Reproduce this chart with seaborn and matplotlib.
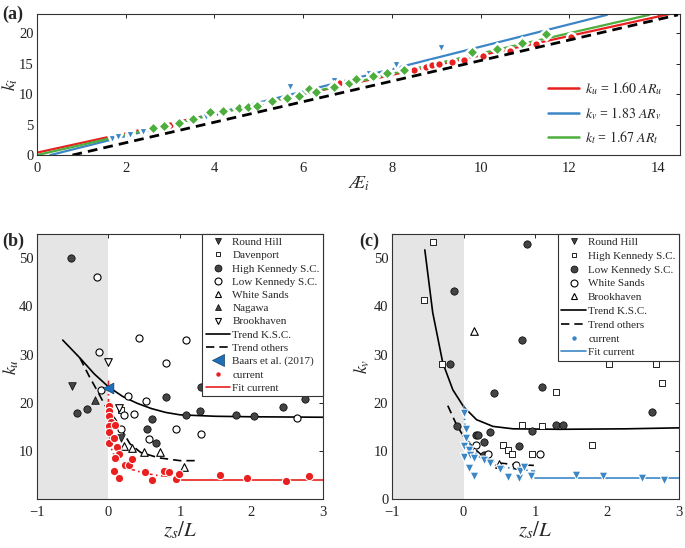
import matplotlib.pyplot as plt
import seaborn as sns
from matplotlib.lines import Line2D

# ---------------- panel (a) : k_i vs AR_i ----------------
a_u_x = [2.1, 3.0, 4.6, 5.3, 6.8, 8.5, 8.76, 8.9, 9.06, 9.35, 9.63, 10.05, 10.66, 11.26, 12.03]
a_u_y = [3.3, 4.9, 7.6, 8.6, 11.8, 14.0, 14.4, 14.7, 15.0, 15.2, 15.6, 16.2, 17.1, 18.2, 19.3]
a_v_x = [1.68, 1.83, 2.1, 2.4, 3.8, 4.05, 5.05, 5.7, 6.7, 7.48, 7.9, 8.1, 9.1]
a_v_y = [2.6, 3.0, 3.3, 3.8, 6.3, 6.8, 7.9, 11.1, 12.1, 13.3, 13.8, 14.7, 17.6]
a_t_x = [2.62, 2.87, 3.2, 3.52, 3.9, 4.2, 4.55, 4.75, 4.95, 5.3, 5.64, 5.9, 6.14, 6.3,
         6.7, 7.03, 7.2, 7.57, 7.9, 8.27, 9.8, 10.37, 10.94, 11.47]
a_t_y = [4.5, 4.8, 5.3, 6.0, 7.0, 7.2, 7.8, 7.9, 8.0, 8.8, 9.4, 9.75, 10.8, 10.4,
         11.1, 11.8, 12.5, 12.9, 13.5, 14.0, 16.9, 17.4, 18.4, 19.8]
fit_u_x, fit_u_y = [0.0, 14.3], [0.4, 23.2]
fit_v_x, fit_v_y = [0.3, 12.85], [0.0, 23.0]
fit_t_x, fit_t_y = [0.0, 13.8], [0.0, 23.0]
fit_all_x, fit_all_y = [0.8, 14.45], [0.0, 23.0]

# ---------------- panel (b) : k_u vs z_s/L ----------------
b_rh_x, b_rh_y = [-0.51, 0.17], [23.5, 12.6]
b_dav_x, b_dav_y = [0.17], [18.6]
b_hk_x = [-0.53, -0.44, -0.30, 0.81, 0.61, 0.54, 0.67, 1.28, 1.30, 1.08, 1.78, 2.03, 2.44, 2.75]
b_hk_y = [50.1, 17.8, 18.8, 21.3, 16.6, 14.5, 11.7, 18.2, 23.3, 17.4, 17.4, 17.2, 19.2, 20.8]
b_lk_x = [-0.16, -0.13, -0.10, 0.27, 0.42, 0.52, 0.80, 1.08, 0.36, 0.22, 0.18, 0.57, 0.94, 1.29, 2.63]
b_lk_y = [46.1, 30.5, 22.6, 21.5, 33.5, 20.3, 28.3, 33.1, 17.6, 17.4, 14.5, 12.4, 14.5, 13.5, 16.9]
b_ws_x, b_ws_y = [0.22, 0.33, 0.49, 0.72, 1.06], [11.0, 10.6, 9.7, 9.7, 6.6]
b_nag_x, b_nag_y = [-0.19], [20.5]
b_bh_x, b_bh_y = [0.0, 0.15], [28.4, 19.0]
b_ksc_x = [-0.64, -0.4, -0.2, 0.0, 0.2, 0.4, 0.6, 0.8, 1.0, 1.5, 2.0, 3.0]
b_ksc_y = [33.0, 29.3, 26.0, 23.3, 21.3, 19.9, 18.8, 18.0, 17.5, 17.2, 17.1, 17.0]
b_oth_x = [-0.40, -0.27, -0.15, -0.05, 0.1, 0.2, 0.3, 0.45, 0.7, 1.0, 1.22]
b_oth_y = [29.3, 25.5, 22.3, 19.5, 16.5, 14.0, 11.5, 9.7, 8.6, 8.0, 8.0]
b_baars_x, b_baars_y = [0.0], [23.1]
b_cur_x = [0.01, 0.01, 0.01, 0.03, 0.01, 0.01, 0.01, 0.09, 0.08, 0.12, 0.15, 0.09, 0.08, 0.15,
           0.23, 0.29, 0.33, 0.51, 0.61, 0.78, 0.84, 0.95, 0.99, 1.56, 1.94, 2.48, 2.80]
b_cur_y = [19.4, 18.3, 17.2, 16.1, 15.1, 14.0, 11.6, 15.4, 12.6, 10.9, 9.3, 8.5, 5.9, 4.3,
           7.1, 7.1, 8.3, 5.6, 4.0, 5.9, 5.6, 4.2, 5.3, 5.1, 4.5, 3.75, 4.9]
b_fitc_x = [0.0, 0.0, 0.005, 0.02, 0.05, 0.1, 0.2, 0.3, 0.5, 0.7, 1.0]
b_fitc_y = [24.6, 20.0, 15.0, 12.0, 10.0, 8.6, 7.2, 6.3, 5.4, 4.9, 4.6]
b_flat_x, b_flat_y = [1.0, 3.0], [3.9, 3.9]

# ---------------- panel (c) : k_v vs z_s/L ----------------
c_hk_x = [-0.42, -0.55, -0.30, 1.29, 2.03, 2.68, 2.76, 0.82, 1.09, 0.55, 0.62, 0.68, 0.96, 1.79]
c_hk_y = [53.3, 41.3, 28.1, 22.2, 28.1, 28.1, 24.1, 15.3, 15.1, 11.2, 10.2, 9.3, 9.3, 11.2]
c_lk_x = [0.88, -0.13, -0.19, 0.81, 0.42, 1.09, -0.09, 0.18, 0.20, 0.28, 0.37, 0.95, 0.77,
          1.29, 1.38, 2.63, 0.29]
c_lk_y = [52.9, 43.1, 28.1, 33.0, 22.0, 23.3, 15.1, 13.3, 13.3, 11.9, 14.0, 14.2, 11.0,
          15.3, 15.4, 18.1, 9.2]
c_ws_x, c_ws_y = [0.18, 0.34, 0.73, 1.07], [11.2, 9.3, 7.2, 9.3]
c_bh_x, c_bh_y = [0.14, 0.49], [34.9, 7.4]
c_ksc_x = [-0.54, -0.43, -0.29, -0.15, 0.0, 0.18, 0.41, 0.69, 1.34, 2.26, 3.0]
c_ksc_y = [51.7, 38.7, 28.3, 22.7, 19.2, 16.5, 15.1, 14.6, 14.5, 14.6, 14.8]
c_oth_x = [-0.22, -0.1, 0.0, 0.15, 0.3, 0.5, 0.7, 1.0]
c_oth_y = [19.4, 15.5, 13.0, 10.5, 8.5, 7.5, 7.2, 7.0]
c_cur_x = [0.01, 0.03, 0.04, 0.01, 0.08, 0.01, 0.09, 0.15, 0.08, 0.15, 0.29, 0.37, 0.51,
           0.62, 0.77, 0.78, 0.84, 0.94, 1.56, 1.94, 2.49, 2.80]
c_cur_y = [17.8, 14.5, 12.6, 11.1, 10.2, 8.8, 9.2, 8.6, 6.4, 4.8, 8.1, 7.6, 6.2,
           4.7, 4.3, 5.9, 6.6, 4.8, 5.0, 4.9, 4.4, 4.0]
c_fitc_x = [0.0, 0.02, 0.05, 0.1, 0.2, 0.4, 0.7, 1.0]
c_fitc_y = [19.5, 15.5, 13.0, 11.0, 9.0, 7.2, 6.3, 5.8]
c_flat_x, c_flat_y = [1.0, 3.0], [4.4, 4.4]

RED = "#e8201f"
BLUE = "#3c86c6"
GREEN = "#4cae3c"
DARK = "#444444"
SHADE = "#e5e5e5"

sns.set_theme(style="white")
plt.rcParams["font.family"] = ["Liberation Serif", "DejaVu Serif"]
plt.rcParams["mathtext.fontset"] = "stix"
plt.rcParams["axes.edgecolor"] = "#333333"
plt.rcParams["axes.linewidth"] = 0.8

fig = plt.figure(figsize=(6.85, 5.48), dpi=100)
ax_a = fig.add_axes([0.054, 0.717, 0.939, 0.257])
ax_b = fig.add_axes([0.054, 0.089, 0.4175, 0.484])
ax_c = fig.add_axes([0.572, 0.089, 0.419, 0.484])

for ax in (ax_a, ax_b, ax_c):
    ax.tick_params(direction="in", top=True, right=True, labelsize=10.5,
                   length=3, width=0.7, colors="#222222")
    ax.tick_params(axis="y", pad=2.5)
    ax.tick_params(axis="x", pad=5)

# ---- (a) ----
sns.lineplot(x=fit_u_x, y=fit_u_y, ax=ax_a, color=RED, lw=1.6, sort=False, estimator=None)
sns.lineplot(x=fit_v_x, y=fit_v_y, ax=ax_a, color=BLUE, lw=1.6, sort=False, estimator=None)
sns.lineplot(x=fit_t_x, y=fit_t_y, ax=ax_a, color=GREEN, lw=1.6, sort=False, estimator=None)
sns.scatterplot(x=a_u_x, y=a_u_y, ax=ax_a, color=RED, marker="o", s=40,
                edgecolor="white", linewidth=1.8, zorder=3)
sns.scatterplot(x=a_v_x, y=a_v_y, ax=ax_a, color=BLUE, marker="v", s=45,
                edgecolor="white", linewidth=1.8, zorder=3)
sns.scatterplot(x=a_t_x, y=a_t_y, ax=ax_a, color=GREEN, marker="D", s=40,
                edgecolor="white", linewidth=1.8, zorder=3)
sns.lineplot(x=fit_all_x, y=fit_all_y, ax=ax_a, color="black", lw=2.0,
             linestyle=(0, (3.5, 2.2)), sort=False, estimator=None, zorder=4)
ax_a.set_xlim(0, 14.5)
ax_a.set_ylim(0, 23.1)
ax_a.set_xticks(range(0, 15, 2))
ax_a.set_yticks([0, 5, 10, 15, 20])
ax_a.set_xlabel(r"$\mathit{Æ}_i$", fontsize=13, labelpad=0)
ax_a.set_ylabel(r"$k_i$", fontsize=13)
ax_a.yaxis.set_label_coords(-0.027, 0.5)
a_handles = [Line2D([], [], color=RED, lw=1.8), Line2D([], [], color=BLUE, lw=1.8),
             Line2D([], [], color=GREEN, lw=1.8)]
a_labels = [r"$k_u$ = $\mathit{1.60\ AR_u}$", r"$k_v$ = $\mathit{1.83\ AR_v}$",
            r"$k_t$ = $\mathit{1.67\ AR_t}$"]
ax_a.legend(a_handles, a_labels, loc="upper left", bbox_to_anchor=(0.775, 0.62),
            frameon=False, fontsize=10, handlelength=2.2, labelspacing=0.55,
            handletextpad=0.5)

# ---- (b) ----
ax_b.axvspan(-1, 0, color=SHADE, lw=0, zorder=0)
sns.lineplot(x=b_ksc_x, y=b_ksc_y, ax=ax_b, color="black", lw=1.2, sort=False, estimator=None)
sns.lineplot(x=b_oth_x, y=b_oth_y, ax=ax_b, color="black", lw=1.2, linestyle=(0, (5, 3)),
             sort=False, estimator=None)
sns.lineplot(x=b_fitc_x, y=b_fitc_y, ax=ax_b, color=RED, lw=1.2, linestyle=(0, (6, 2, 1, 2)),
             sort=False, estimator=None)
sns.lineplot(x=b_flat_x, y=b_flat_y, ax=ax_b, color=RED, lw=1.2, sort=False, estimator=None)
sns.scatterplot(x=b_rh_x, y=b_rh_y, ax=ax_b, color=DARK, marker="v", s=30,
                edgecolor="black", linewidth=0.5, zorder=3)
sns.scatterplot(x=b_dav_x, y=b_dav_y, ax=ax_b, color="white", marker="s", s=14,
                edgecolor="black", linewidth=0.6, zorder=3)
sns.scatterplot(x=b_hk_x, y=b_hk_y, ax=ax_b, color=DARK, marker="o", s=28,
                edgecolor="black", linewidth=0.5, zorder=3)
sns.scatterplot(x=b_lk_x, y=b_lk_y, ax=ax_b, color="white", marker="o", s=26,
                edgecolor="black", linewidth=0.8, zorder=3)
sns.scatterplot(x=b_ws_x, y=b_ws_y, ax=ax_b, color="white", marker="^", s=30,
                edgecolor="black", linewidth=0.8, zorder=3)
sns.scatterplot(x=b_nag_x, y=b_nag_y, ax=ax_b, color=DARK, marker="^", s=30,
                edgecolor="black", linewidth=0.5, zorder=3)
sns.scatterplot(x=b_bh_x, y=b_bh_y, ax=ax_b, color="white", marker="v", s=30,
                edgecolor="black", linewidth=0.8, zorder=3)
sns.scatterplot(x=b_cur_x, y=b_cur_y, ax=ax_b, color=RED, marker="o", s=36,
                edgecolor="white", linewidth=0.8, zorder=4)
sns.scatterplot(x=b_baars_x, y=b_baars_y, ax=ax_b, color="#1f6fb8", marker="<", s=60,
                edgecolor="#123f6a", linewidth=0.5, zorder=5)
ax_b.set_xlim(-1, 3)
ax_b.set_ylim(0, 55)
ax_b.set_xticks([-1, 0, 1, 2, 3])
ax_b.set_yticks([10, 20, 30, 40, 50])
ax_b.set_xlabel(r"$z_s/L$", fontsize=15, labelpad=0)
ax_b.set_ylabel(r"$k_u$", fontsize=13)
ax_b.yaxis.set_label_coords(-0.057, 0.5)

b_handles = [
    Line2D([], [], ls="", marker="v", ms=5, mfc=DARK, mec="black", mew=0.5),
    Line2D([], [], ls="", marker="s", ms=3.5, mfc="white", mec="black", mew=0.6),
    Line2D([], [], ls="", marker="o", ms=5, mfc=DARK, mec="black", mew=0.5),
    Line2D([], [], ls="", marker="o", ms=5, mfc="white", mec="black", mew=0.8),
    Line2D([], [], ls="", marker="^", ms=5, mfc="white", mec="black", mew=0.8),
    Line2D([], [], ls="", marker="^", ms=5, mfc=DARK, mec="black", mew=0.5),
    Line2D([], [], ls="", marker="v", ms=5, mfc="white", mec="black", mew=0.8),
    Line2D([], [], color="black", lw=1.2),
    Line2D([], [], color="black", lw=1.2, ls=(0, (5, 3))),
    Line2D([], [], ls="", marker="<", ms=8, mfc="#1f6fb8", mec="#123f6a", mew=0.5),
    Line2D([], [], ls="", marker="o", ms=2.2, mfc=RED, mec=RED),
    Line2D([], [], color=RED, lw=1.2),
]
b_labels = ["Round Hill", "Davenport", "High Kennedy S.C.", "Low Kennedy S.C.",
            "White Sands", "Nagawa", "Brookhaven", "Trend K.S.C.", "Trend others",
            "Baars et al. (2017)", "current", "Fit current"]
leg = ax_b.legend(b_handles, b_labels, loc="upper right", borderaxespad=0, fontsize=8,
                  fancybox=False, framealpha=1, edgecolor="#333333", handlelength=2.2,
                  labelspacing=0.31, handletextpad=0.2, borderpad=0.3)
leg.get_frame().set_linewidth(0.8)

# ---- (c) ----
ax_c.axvspan(-1, 0, color=SHADE, lw=0, zorder=0)
sns.lineplot(x=c_ksc_x, y=c_ksc_y, ax=ax_c, color="black", lw=1.2, sort=False, estimator=None)
sns.lineplot(x=c_oth_x, y=c_oth_y, ax=ax_c, color="black", lw=1.2, linestyle=(0, (5, 3)),
             sort=False, estimator=None)
sns.lineplot(x=c_fitc_x, y=c_fitc_y, ax=ax_c, color=BLUE, lw=1.2, linestyle=(0, (6, 2, 1, 2)),
             sort=False, estimator=None)
sns.lineplot(x=c_flat_x, y=c_flat_y, ax=ax_c, color=BLUE, lw=1.2, sort=False, estimator=None)
sns.scatterplot(x=c_hk_x, y=c_hk_y, ax=ax_c, color="white", marker="s", s=14,
                edgecolor="black", linewidth=0.6, zorder=3)
sns.scatterplot(x=c_lk_x, y=c_lk_y, ax=ax_c, color=DARK, marker="o", s=28,
                edgecolor="black", linewidth=0.5, zorder=3)
sns.scatterplot(x=c_ws_x, y=c_ws_y, ax=ax_c, color="white", marker="o", s=26,
                edgecolor="black", linewidth=0.8, zorder=3)
sns.scatterplot(x=c_bh_x, y=c_bh_y, ax=ax_c, color="white", marker="^", s=30,
                edgecolor="black", linewidth=0.8, zorder=3)
sns.scatterplot(x=c_cur_x, y=c_cur_y, ax=ax_c, color=BLUE, marker="v", s=40,
                edgecolor="white", linewidth=0.8, zorder=4)
ax_c.set_xlim(-1, 3)
ax_c.set_ylim(0, 55)
ax_c.set_xticks([-1, 0, 1, 2, 3])
ax_c.set_yticks([0, 10, 20, 30, 40, 50])
ax_c.set_xlabel(r"$z_s/L$", fontsize=15, labelpad=0)
ax_c.set_ylabel(r"$k_v$", fontsize=13)
ax_c.yaxis.set_label_coords(-0.07, 0.5)

c_handles = [
    Line2D([], [], ls="", marker="v", ms=5, mfc=DARK, mec="black", mew=0.5),
    Line2D([], [], ls="", marker="s", ms=3.5, mfc="white", mec="black", mew=0.6),
    Line2D([], [], ls="", marker="o", ms=5, mfc=DARK, mec="black", mew=0.5),
    Line2D([], [], ls="", marker="o", ms=5, mfc="white", mec="black", mew=0.8),
    Line2D([], [], ls="", marker="^", ms=5, mfc="white", mec="black", mew=0.8),
    Line2D([], [], color="black", lw=1.2),
    Line2D([], [], color="black", lw=1.2, ls=(0, (5, 3))),
    Line2D([], [], ls="", marker="o", ms=2.2, mfc=BLUE, mec=BLUE),
    Line2D([], [], color=BLUE, lw=1.2),
]
c_labels = ["Round Hill", "High Kennedy S.C.", "Low Kennedy S.C.", "White Sands",
            "Brookhaven", "Trend K.S.C.", "Trend others", "current", "Fit current"]
leg = ax_c.legend(c_handles, c_labels, loc="upper right", borderaxespad=0, fontsize=8,
                  fancybox=False, framealpha=1, edgecolor="#333333", handlelength=2.2,
                  labelspacing=0.36, handletextpad=0.2, borderpad=0.3)
leg.get_frame().set_linewidth(0.8)

fig.text(0.003, 0.99, "(a)", fontsize=13, fontweight="bold", va="top")
fig.text(0.003, 0.575, "(b)", fontsize=13, fontweight="bold", va="top")
fig.text(0.525, 0.575, "(c)", fontsize=13, fontweight="bold", va="top")

fig.savefig("out.png", dpi=100)
